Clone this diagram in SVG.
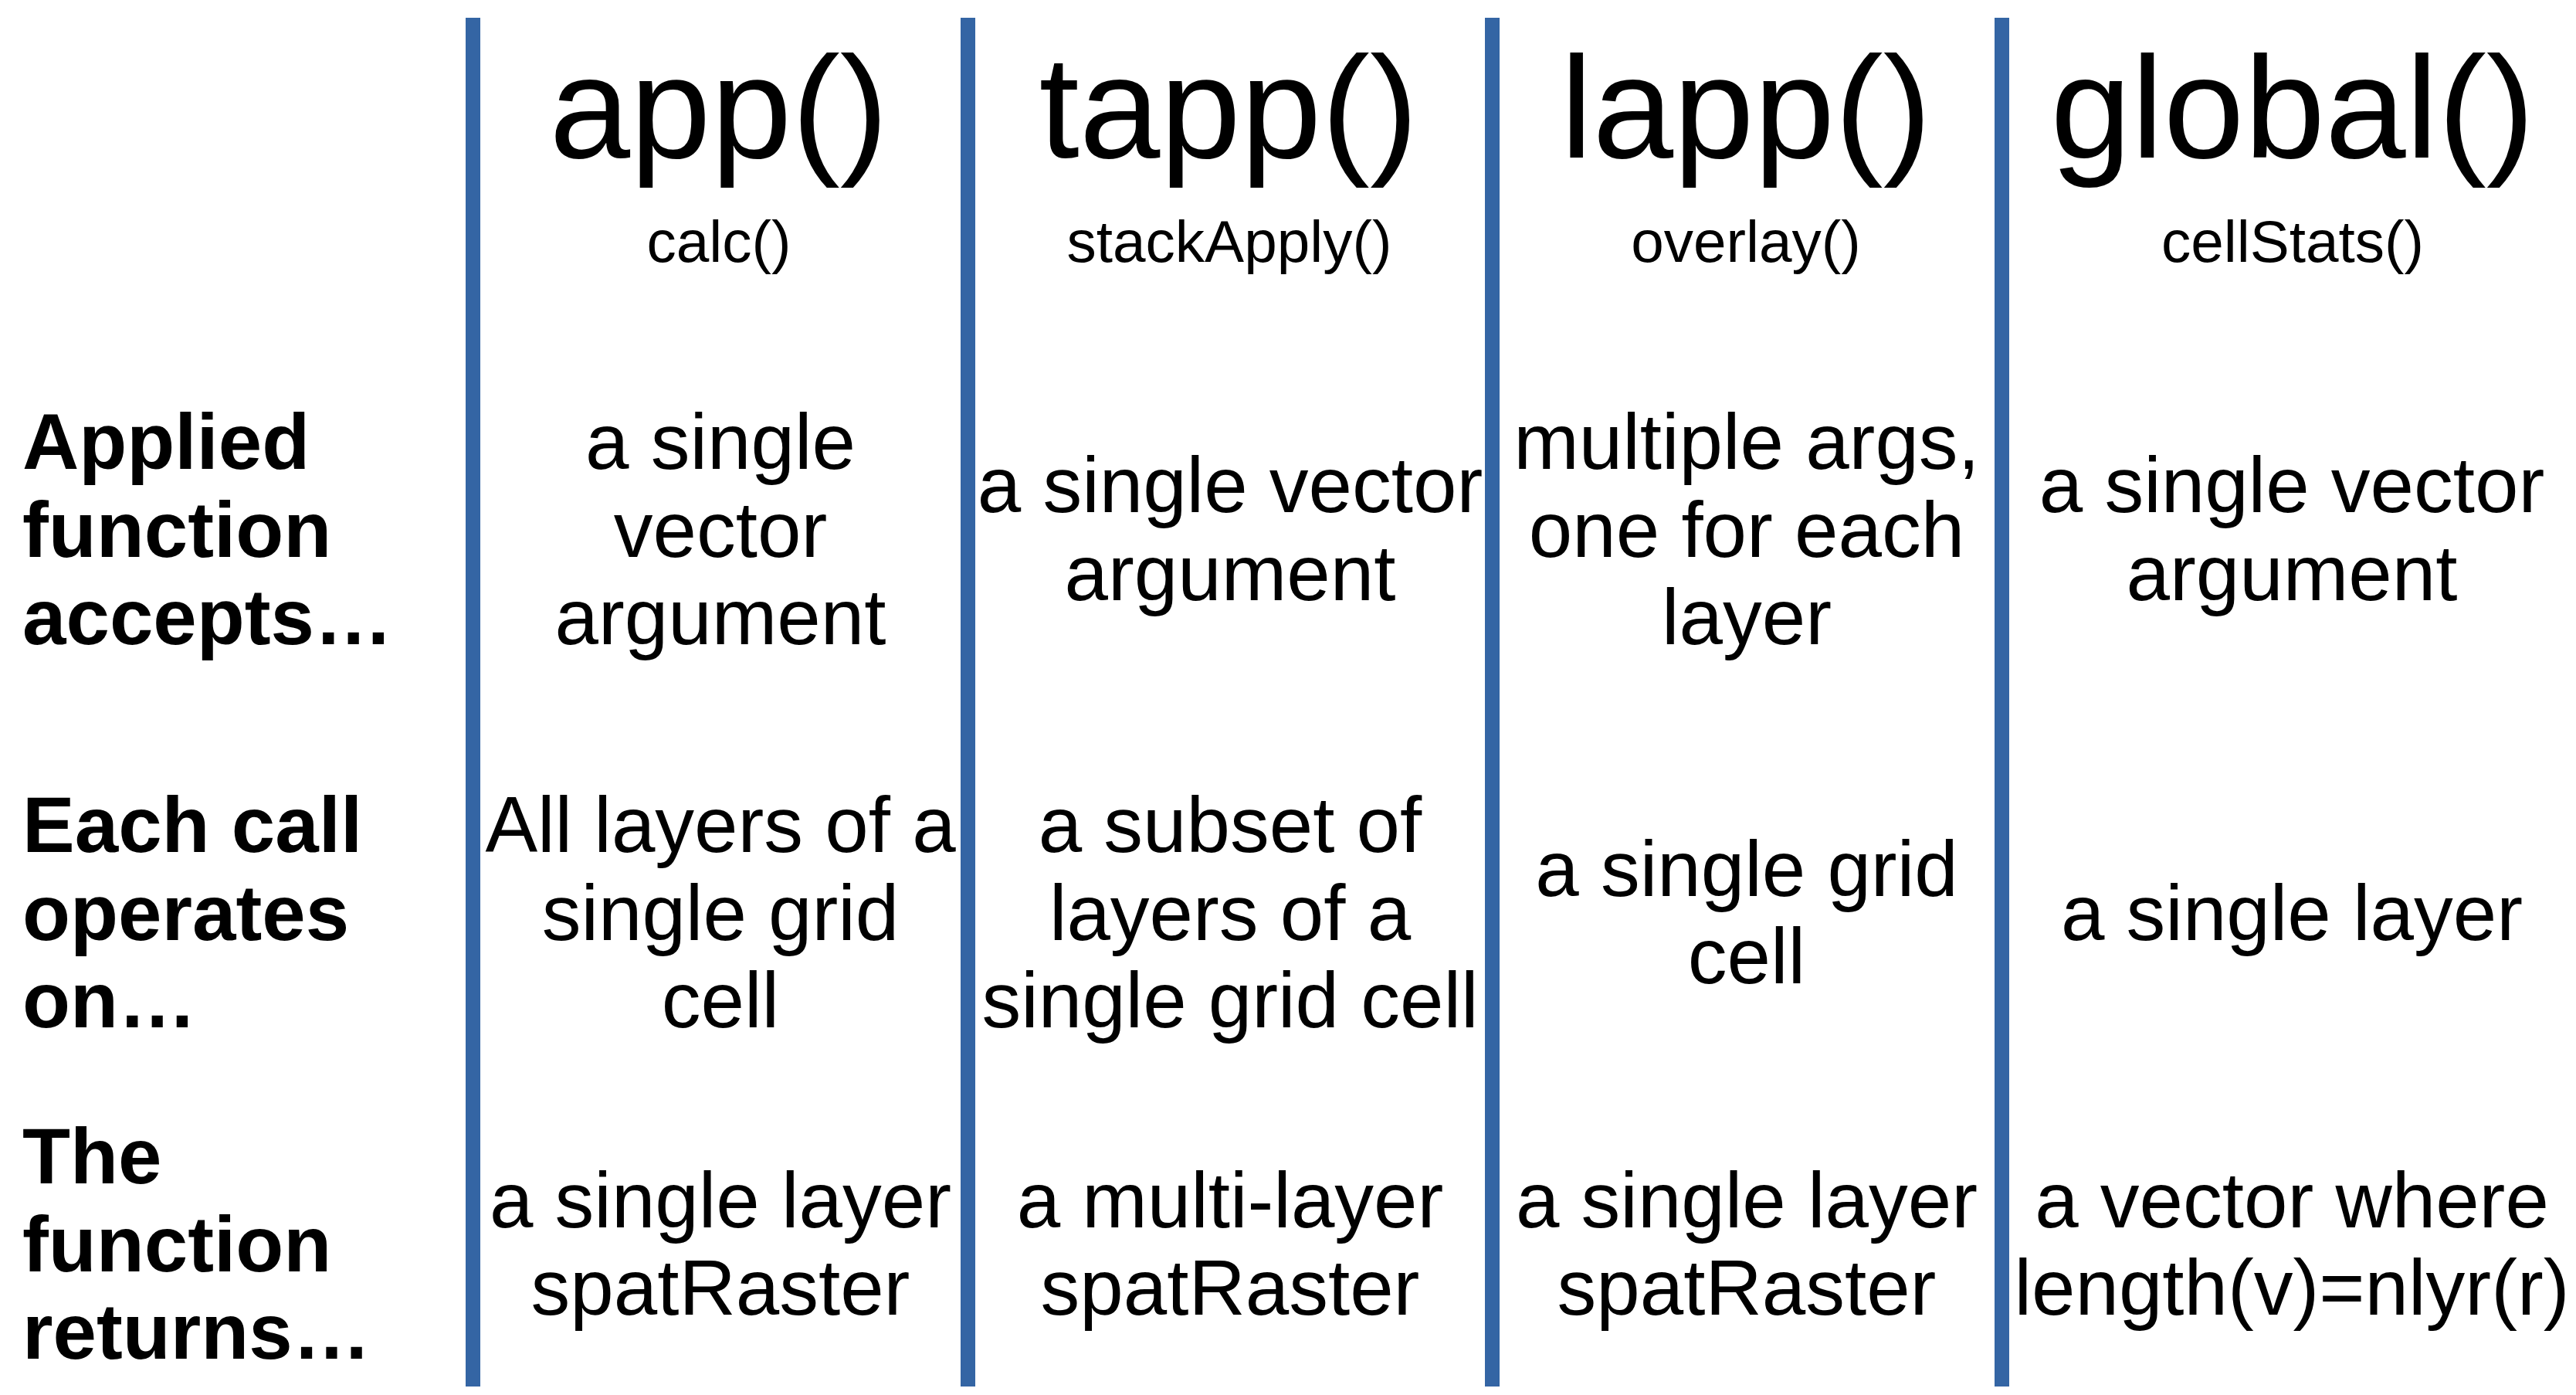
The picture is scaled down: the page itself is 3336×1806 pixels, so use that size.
<svg xmlns="http://www.w3.org/2000/svg" width="3336" height="1806" viewBox="0 0 3336 1806">
<style>
text{font-family:"Liberation Sans",Arial,sans-serif;fill:#000}
.h{font-size:188px;text-anchor:middle}
.s{font-size:76.5px;text-anchor:middle}
.b{font-size:101.5px;text-anchor:middle}
.l{font-size:101.5px;font-weight:bold;text-anchor:start}
.sep{stroke:#3465a4;stroke-width:19;fill:none}
</style>
<rect width="3336" height="1806" fill="#fff"/>
<g id="connectors">
<line class="sep" x1="612.5" y1="23" x2="612.5" y2="1795"/>
<line class="sep" x1="1253.5" y1="23" x2="1253.5" y2="1795"/>
<line class="sep" x1="1932.5" y1="23" x2="1932.5" y2="1795"/>
<line class="sep" x1="2592.5" y1="23" x2="2592.5" y2="1795"/>
</g>
<g id="row-labels">
<text class="l"><tspan x="29" y="607">Applied</tspan><tspan x="29" y="720.5">function</tspan><tspan x="29" y="834">accepts…</tspan></text>
<text class="l"><tspan x="29" y="1103">Each call</tspan><tspan x="29" y="1216.5">operates</tspan><tspan x="29" y="1330">on…</tspan></text>
<text class="l"><tspan x="29" y="1532">The</tspan><tspan x="29" y="1645.5">function</tspan><tspan x="29" y="1759">returns…</tspan></text>
</g>
<g id="col-app">
<text class="h" x="931" y="204">app()</text>
<text class="s" x="931" y="339">calc()</text>
<text class="b"><tspan x="933" y="607">a single</tspan><tspan x="933" y="720.5">vector</tspan><tspan x="933" y="834">argument</tspan></text>
<text class="b"><tspan x="933" y="1103">All layers of a</tspan><tspan x="933" y="1216.5">single grid</tspan><tspan x="933" y="1330">cell</tspan></text>
<text class="b"><tspan x="933" y="1589">a single layer</tspan><tspan x="933" y="1702">spatRaster</tspan></text>
</g>
<g id="col-tapp">
<text class="h" x="1591" y="204">tapp()</text>
<text class="s" x="1592" y="339">stackApply()</text>
<text class="b"><tspan x="1593" y="663">a single vector</tspan><tspan x="1593" y="777">argument</tspan></text>
<text class="b"><tspan x="1593" y="1103">a subset of</tspan><tspan x="1593" y="1216.5">layers of a</tspan><tspan x="1593" y="1330">single grid cell</tspan></text>
<text class="b"><tspan x="1593" y="1589">a multi-layer</tspan><tspan x="1593" y="1702">spatRaster</tspan></text>
</g>
<g id="col-lapp">
<text class="h" x="2261" y="204">lapp()</text>
<text class="s" x="2261" y="339">overlay()</text>
<text class="b"><tspan x="2262" y="607">multiple args,</tspan><tspan x="2262" y="720.5">one for each</tspan><tspan x="2262" y="834">layer</tspan></text>
<text class="b"><tspan x="2262" y="1160">a single grid</tspan><tspan x="2262" y="1273">cell</tspan></text>
<text class="b"><tspan x="2262" y="1589">a single layer</tspan><tspan x="2262" y="1702">spatRaster</tspan></text>
</g>
<g id="col-global">
<text class="h" x="2969" y="204">global()</text>
<text class="s" x="2969" y="339">cellStats()</text>
<text class="b"><tspan x="2968" y="663">a single vector</tspan><tspan x="2968" y="777">argument</tspan></text>
<text class="b"><tspan x="2968" y="1216.5">a single layer</tspan></text>
<text class="b"><tspan x="2968" y="1589">a vector where</tspan><tspan x="2968" y="1702">length(v)=nlyr(r)</tspan></text>
</g>
</svg>
